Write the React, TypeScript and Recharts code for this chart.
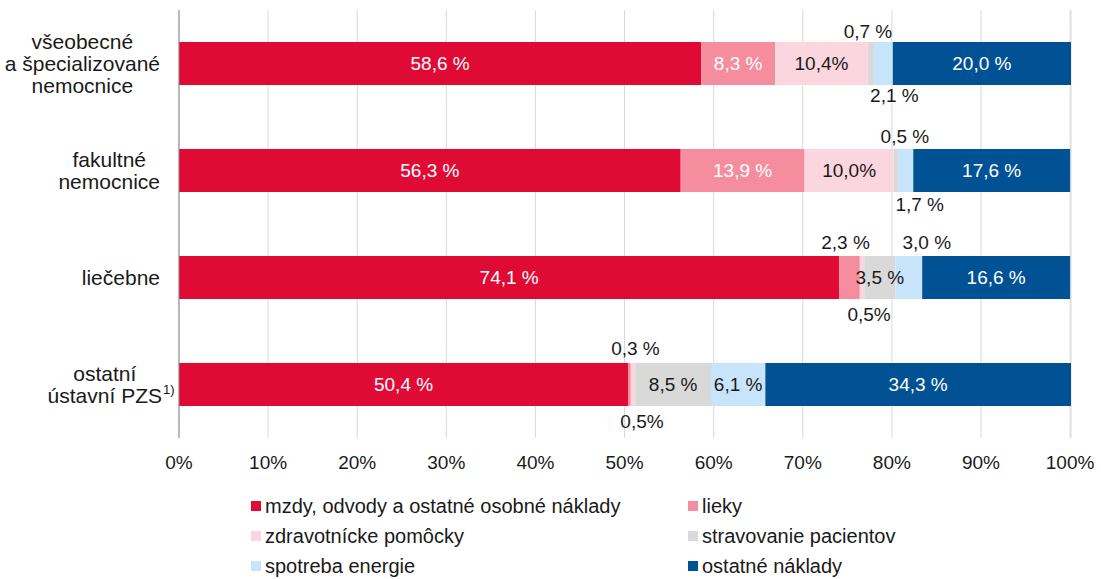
import React from 'react';
import { BarChart, Bar, XAxis, YAxis, CartesianGrid } from 'recharts';

// ---------- data ----------
const categories = ['všeobecné\na špecializované\nnemocnice', 'fakultné\nnemocnice', 'liečebne', 'ostatní\nústavní PZS'];
const footnotes = ['', '', '', '1)'];

const seriesNames = [
  'mzdy, odvody a ostatné osobné náklady',
  'lieky',
  'zdravotnícke pomôcky',
  'stravovanie pacientov',
  'spotreba energie',
  'ostatné náklady',
];
const seriesKeys = ['mzdy', 'lieky', 'pomocky', 'stravovanie', 'energia', 'ostatne'];

const mzdy = [58.6, 56.3, 74.1, 50.4];
const lieky = [8.3, 13.9, 2.3, 0.3];
const pomocky = [10.4, 10.0, 0.5, 0.5];
const stravovanie = [0.7, 0.5, 3.5, 8.5];
const energia = [2.1, 1.7, 3.0, 6.1];
const ostatne = [20.0, 17.6, 16.6, 34.3];

const mzdyLabels = ['58,6 %', '56,3 %', '74,1 %', '50,4 %'];
const liekyLabels = ['8,3 %', '13,9 %', '2,3 %', '0,3 %'];
const pomockyLabels = ['10,4%', '10,0%', '0,5%', '0,5%'];
const stravovanieLabels = ['0,7 %', '0,5 %', '3,5 %', '8,5 %'];
const energiaLabels = ['2,1 %', '1,7 %', '3,0 %', '6,1 %'];
const ostatneLabels = ['20,0 %', '17,6 %', '16,6 %', '34,3 %'];

const xTicks = [0, 10, 20, 30, 40, 50, 60, 70, 80, 90, 100];

// ---------- styles ----------
const FONT = "'Liberation Sans', Arial, Helvetica, sans-serif";
const FS = 19;
const CAT_FS = 21;
const LEG_FS = 20;
const colors = ['#E00B34', '#F68D9F', '#FCD6DE', '#D9D9D9', '#C8E4FB', '#015294'];

type Place = { pos: 'in' | 'top' | 'bottom'; dx: number; color: string };
const W = '#FFFFFF';
const K = '#1A1A1A';
const placements: Place[][] = [
  [{ pos: 'in', dx: 0, color: W }, { pos: 'in', dx: 0, color: W }, { pos: 'in', dx: 0, color: W }, { pos: 'in', dx: 0, color: W }],
  [{ pos: 'in', dx: 0, color: W }, { pos: 'in', dx: 0, color: W }, { pos: 'top', dx: -4, color: K }, { pos: 'top', dx: 6, color: K }],
  [{ pos: 'in', dx: 0, color: K }, { pos: 'in', dx: 0, color: K }, { pos: 'bottom', dx: 7, color: K }, { pos: 'bottom', dx: 9, color: K }],
  [{ pos: 'top', dx: -3, color: K }, { pos: 'top', dx: 9, color: K }, { pos: 'in', dx: 0, color: K }, { pos: 'in', dx: 0, color: K }],
  [{ pos: 'bottom', dx: 11, color: K }, { pos: 'bottom', dx: 14, color: K }, { pos: 'top', dx: 18, color: K }, { pos: 'in', dx: 0, color: K }],
  [{ pos: 'in', dx: 0, color: W }, { pos: 'in', dx: 0, color: W }, { pos: 'in', dx: 0, color: W }, { pos: 'in', dx: 0, color: W }],
];
// vertical gap of outside labels per row
const topGap = [11, 13, 14, 15];
const bottomGap = [10, 12, 15, 15];

const valueArrays = [mzdy, lieky, pomocky, stravovanie, energia, ostatne];
const labelArrays = [mzdyLabels, liekyLabels, pomockyLabels, stravovanieLabels, energiaLabels, ostatneLabels];

const data = categories.map((name, i) => {
  const row: any = { name };
  seriesKeys.forEach((k, s) => {
    row[k] = valueArrays[s][i];
  });
  return row;
});

let measureCtx: CanvasRenderingContext2D | null = null;
function measure(text: string, fs: number): number {
  if (!measureCtx) {
    const c = document.createElement('canvas');
    measureCtx = c.getContext('2d');
  }
  if (!measureCtx) return text.length * fs * 0.5;
  measureCtx.font = `${fs}px ${FONT}`;
  return measureCtx.measureText(text).width;
}

const CategoryTick = (props: any) => {
  const { y, payload } = props;
  const idx = categories.indexOf(payload.value);
  const lines: string[] = String(payload.value).split('\n');
  const foot = footnotes[idx] || '';
  const widths = lines.map((l) => measure(l, CAT_FS));
  const maxW = Math.max(...widths);
  const right = foot ? 162 : 160;
  const cx = right - maxW / 2;
  const lh = 22;
  const startY = y - ((lines.length - 1) * lh) / 2;
  return (
    <g>
      {lines.map((l, i) => (
        <text
          key={i}
          x={cx}
          y={startY + i * lh}
          textAnchor="middle"
          dominantBaseline="central"
          fontFamily={FONT}
          fontSize={CAT_FS}
          fill={K}
        >
          {l}
        </text>
      ))}
      {foot ? (
        <text
          x={right + 1}
          y={startY + (lines.length - 1) * lh - 6}
          textAnchor="start"
          dominantBaseline="central"
          fontFamily={FONT}
          fontSize={13}
          fill={K}
        >
          {foot}
        </text>
      ) : null}
    </g>
  );
};

const XTick = (props: any) => {
  const { x, y, payload } = props;
  return (
    <text x={x} y={y} textAnchor="middle" dominantBaseline="central" fontFamily={FONT} fontSize={FS} fill={K}>
      {payload.value}%
    </text>
  );
};

function makeLabel(s: number) {
  return (p: any) => {
    const { x, y, width, height, index } = p;
    const pl = placements[s][index];
    const text = labelArrays[s][index];
    if (!pl || !text) return null;
    const cx = Number(x) + Number(width) / 2 + pl.dx;
    let cy = Number(y) + Number(height) / 2;
    if (pl.pos === 'top') cy = Number(y) - topGap[index];
    if (pl.pos === 'bottom') cy = Number(y) + Number(height) + bottomGap[index];
    return (
      <text
        key={`l-${s}-${index}`}
        x={cx}
        y={cy}
        textAnchor="middle"
        dominantBaseline="central"
        fontFamily={FONT}
        fontSize={FS}
        fill={pl.color}
      >
        {text}
      </text>
    );
  };
}

const legendCols = [251, 688];
const legendRows = [506, 536, 566];

export default function App() {
  return (
    <div style={{ position: 'absolute', left: 0, top: 0, width: 1101, height: 579, background: '#fff' }}>
      <BarChart
        width={1101}
        height={579}
        data={data}
        layout="vertical"
        margin={{ top: 10, right: 30, bottom: 0, left: 0 }}
        barSize={43}
      >
        <CartesianGrid horizontal={false} vertical stroke="#D9D9D9" strokeWidth={1} />
        <XAxis
          type="number"
          domain={[0, 100]}
          ticks={xTicks}
          interval={0}
          axisLine={false}
          tickLine={false}
          height={141}
          tickSize={0}
          tickMargin={24}
          tick={<XTick />}
        />
        <YAxis
          type="category"
          dataKey="name"
          width={179}
          axisLine={{ stroke: '#868686', strokeWidth: 1 }}
          tickLine={false}
          tick={<CategoryTick />}
          interval={0}
        />
        {seriesKeys.map((k, s) => (
          <Bar
            key={k}
            dataKey={k}
            name={seriesNames[s]}
            stackId="a"
            fill={colors[s]}
            isAnimationActive={false}
            label={makeLabel(s)}
          />
        ))}
      </BarChart>
      {seriesNames.map((n, s) => {
        const col = s % 2;
        const row = Math.floor(s / 2);
        return (
          <div
            key={n}
            style={{
              position: 'absolute',
              left: legendCols[col],
              top: legendRows[row] - 12,
              height: 24,
              display: 'flex',
              alignItems: 'center',
              fontFamily: FONT,
              fontSize: LEG_FS,
              color: K,
              whiteSpace: 'nowrap',
            }}
          >
            <span style={{ display: 'inline-block', width: 10, height: 10, background: colors[s], marginRight: 4 }} />
            <span>{n}</span>
          </div>
        );
      })}
    </div>
  );
}
